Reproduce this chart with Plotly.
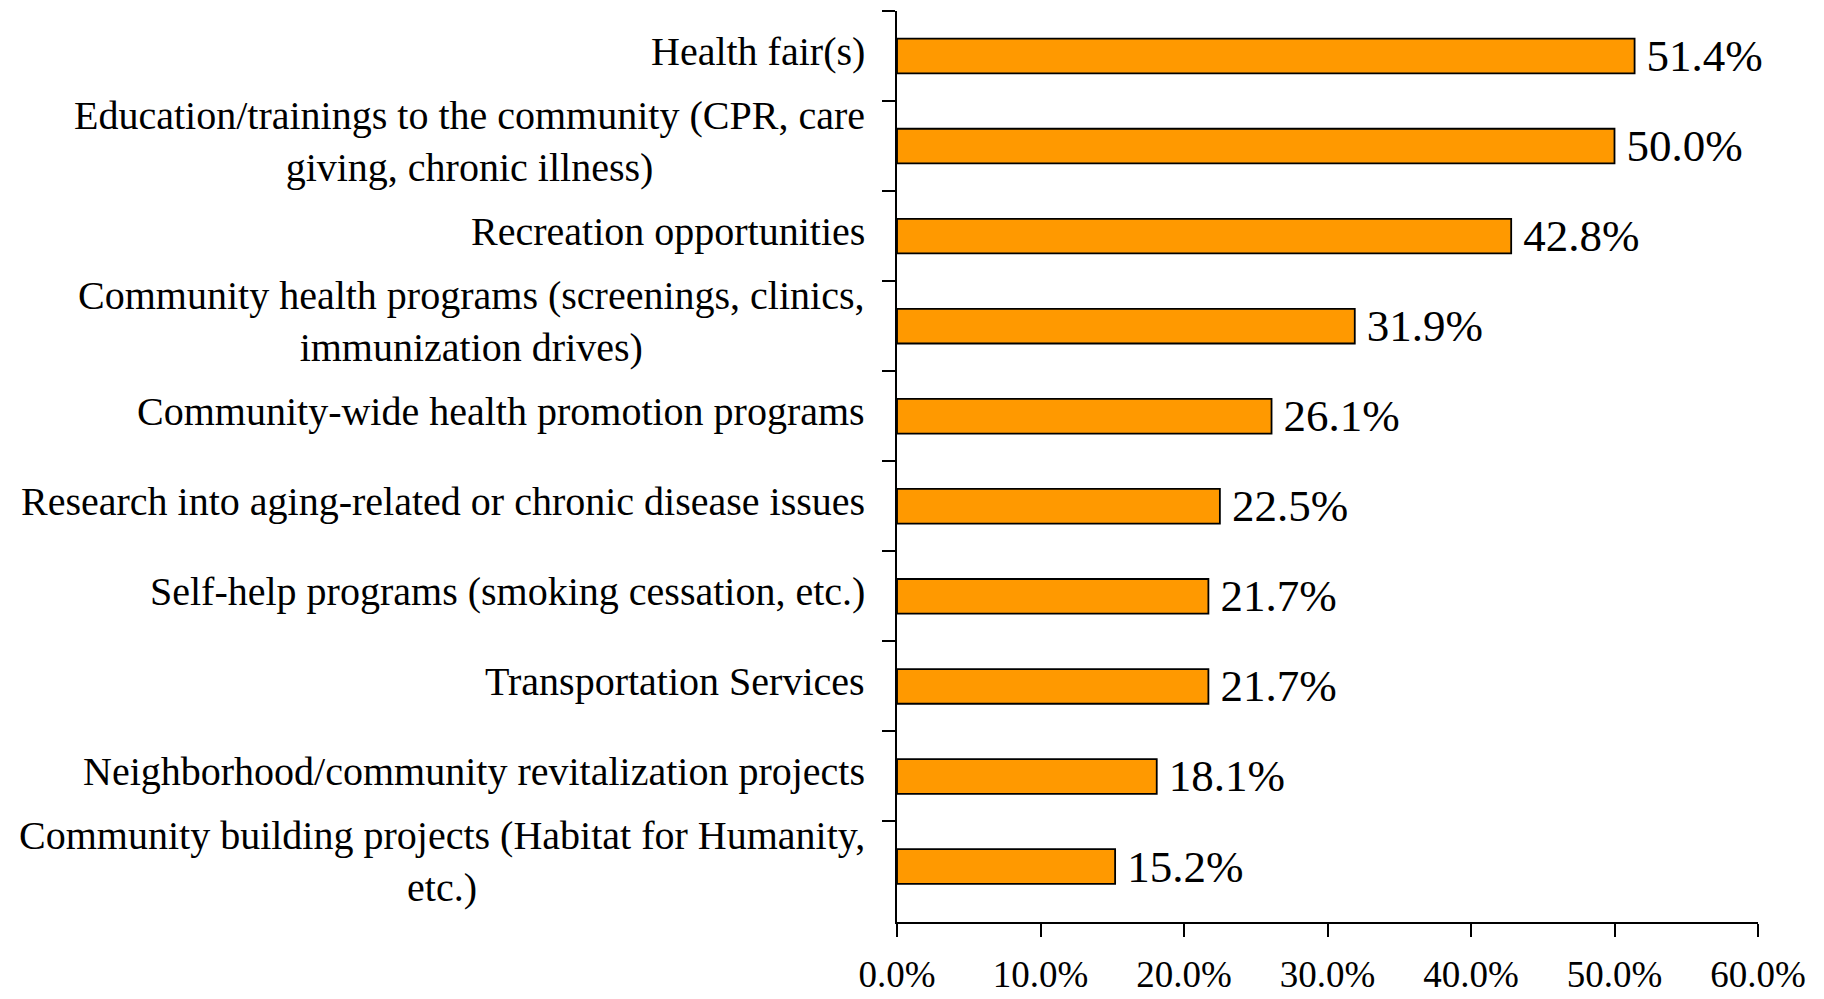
import plotly.graph_objects as go

categories = [
    "Health fair(s)",
    "Education/trainings to the community (CPR, care<br>giving, chronic illness)",
    "Recreation opportunities",
    "Community health programs (screenings, clinics,<br>immunization drives)",
    "Community-wide health promotion programs",
    "Research into aging-related or chronic disease issues",
    "Self-help programs (smoking cessation, etc.)",
    "Transportation Services",
    "Neighborhood/community revitalization projects",
    "Community building projects (Habitat for Humanity,<br>etc.)",
]
values = [51.4, 50.0, 42.8, 31.9, 26.1, 22.5, 21.7, 21.7, 18.1, 15.2]
x_ticks = [0, 10, 20, 30, 40, 50, 60]

FONT = "Liberation Serif"
cat_ids = [str(i) for i in range(len(categories))]

fig = go.Figure()
fig.add_trace(go.Bar(
    x=values,
    y=cat_ids,
    orientation="h",
    marker=dict(color="#FF9900", line=dict(color="#000000", width=1.8)),
    text=[f"\u2009{v:.1f}%" for v in values],
    textposition="outside",
    constraintext="none",
    textfont=dict(family=FONT, size=45, color="#000000"),
    cliponaxis=False,
    hoverinfo="skip",
))

for cid, c in zip(cat_ids, categories):
    fig.add_annotation(
        x=0, xref="paper", xanchor="right", xshift=-30,
        y=cid, yref="y", yanchor="middle", yshift=5,
        text=c, showarrow=False, align="center",
        font=dict(family=FONT, size=40, color="#000000"),
    )

fig.update_layout(
    width=1816, height=991,
    margin=dict(l=889, r=66, t=3, b=77),
    paper_bgcolor="white", plot_bgcolor="white",
    bargap=0.615,
    showlegend=False,
    xaxis=dict(
        range=[0, 60], tickvals=x_ticks,
        ticktext=[f"{t:.1f}%" for t in x_ticks],
        automargin=False,
        showgrid=False, zeroline=False,
        showline=True, linecolor="#000000", linewidth=2,
        ticks="outside", ticklen=13, tickwidth=2, tickcolor="#000000",
        tickfont=dict(family=FONT, size=37, color="#000000"),
        ticklabelstandoff=6,
    ),
    yaxis=dict(
        type="category", tickson="boundaries", autorange="reversed",
        automargin=False,
        showticklabels=False,
        showgrid=False, zeroline=False,
        showline=True, linecolor="#000000", linewidth=2,
        ticks="outside", ticklen=13, tickwidth=2, tickcolor="#000000",
    ),
)

fig.write_html("out.html")
